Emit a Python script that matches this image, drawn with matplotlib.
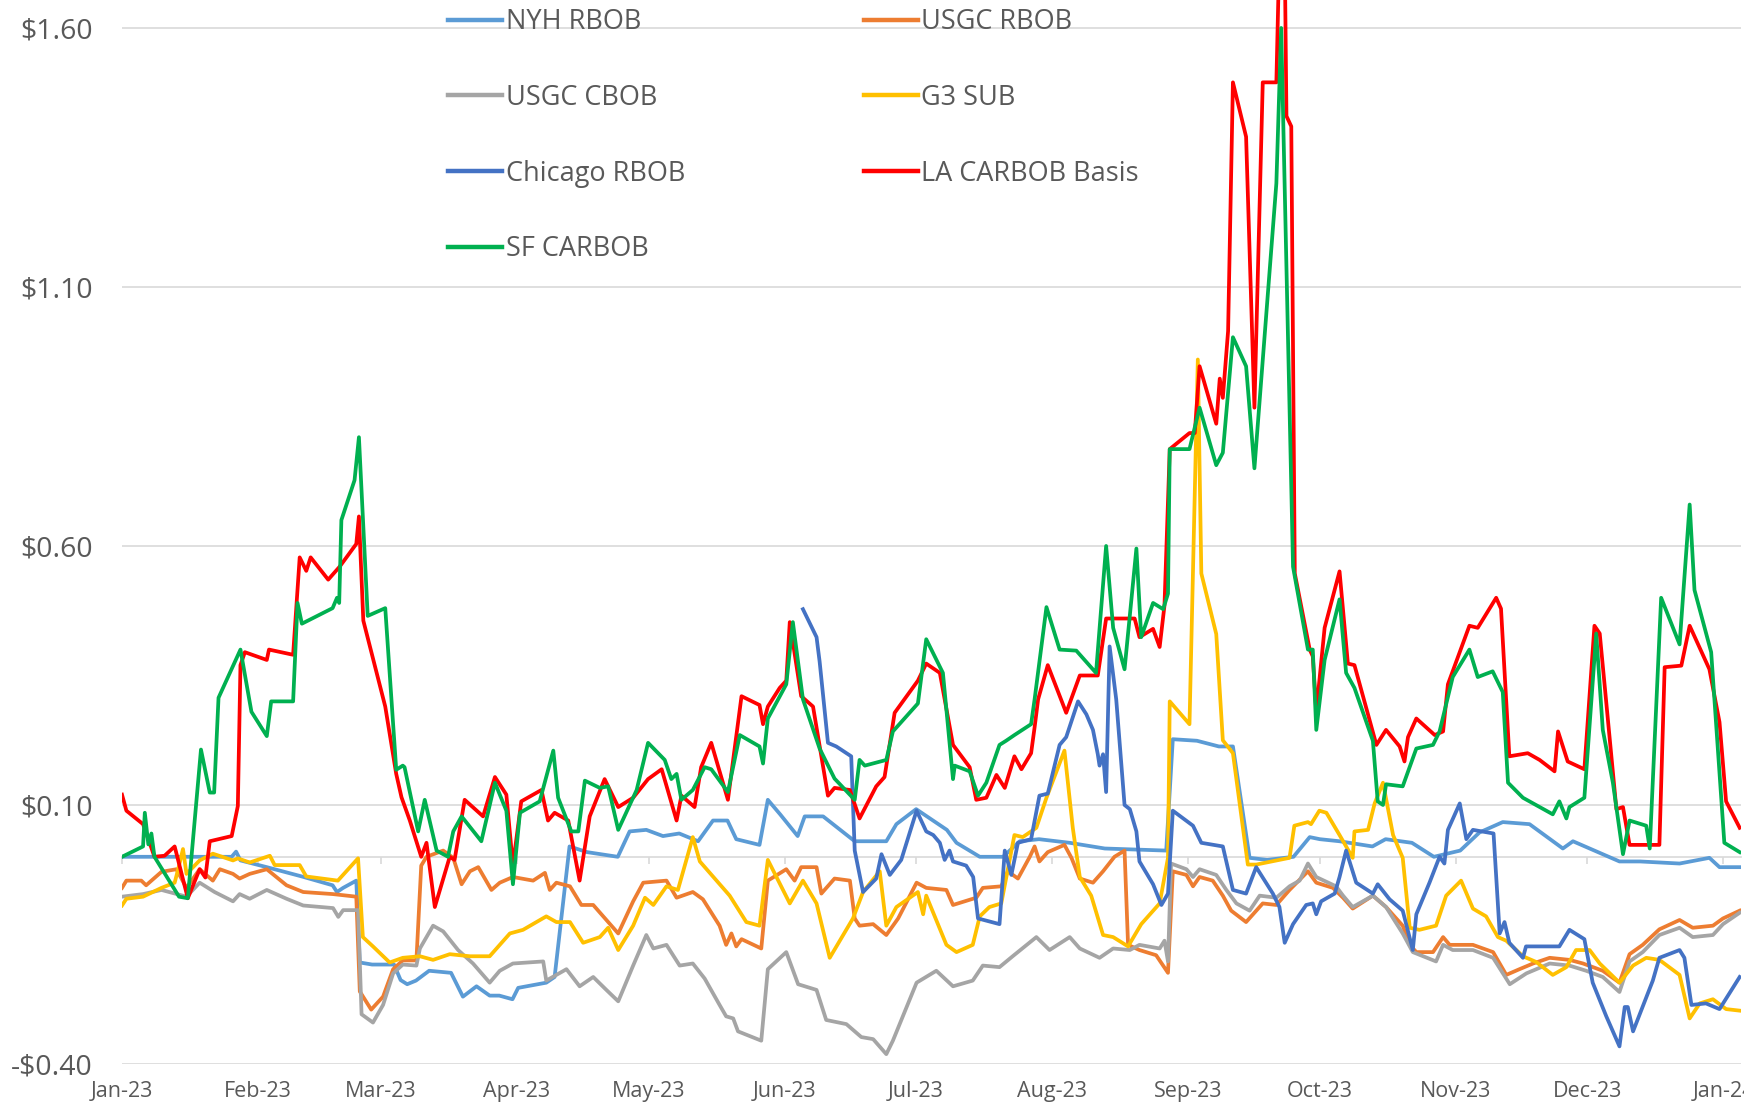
import matplotlib
matplotlib.use("Agg")
import matplotlib.pyplot as plt
import pandas as pd

START = pd.Timestamp("2023-01-01")

# (day offset from START, $/gal) knots
nyh_rbob = [
    (0, 0.0), (25, 0.0), (26, 0.01), (27, -0.007), (33, -0.02), (41, -0.038), (48, -0.055), (49, -0.068),
    (50.4, -0.06), (53.4, -0.046), (54.2, -0.204), (57, -0.208), (62, -0.208), (63.5, -0.238), (65, -0.246),
    (67, -0.239), (70, -0.22), (75, -0.224), (77.7, -0.27), (80.8, -0.25), (83.8, -0.268), (86, -0.268),
    (89, -0.275), (90.3, -0.253), (96.7, -0.243), (98.6, -0.232), (102, 0.02), (106, 0.009), (113, 0.0),
    (115.7, 0.049), (119.5, 0.052), (123.3, 0.04), (127, 0.045), (131.3, 0.03), (134.7, 0.07), (138, 0.07),
    (140, 0.034), (145.3, 0.023), (147.2, 0.11), (150, 0.082), (154, 0.04), (155.6, 0.078), (159.8, 0.078),
    (167, 0.03), (174.2, 0.03), (176.5, 0.063), (181, 0.092), (188, 0.052), (190.2, 0.027), (195.5, 0.0),
    (200.8, 0.0), (204.6, 0.03), (209, 0.034), (216, 0.027), (224, 0.016), (238, 0.012), (239.5, 0.227),
    (245, 0.224), (250, 0.213), (253.2, 0.213), (257, -0.002), (261, -0.006), (267, 0.0), (270.7, 0.038),
    (273, 0.034), (277.5, 0.03), (285, 0.02), (288, 0.034), (294, 0.027), (299, 0.0), (305, 0.012),
    (309.4, 0.047), (314.7, 0.067), (320.8, 0.063), (328.4, 0.016), (330.7, 0.03), (341.3, -0.009),
    (346, -0.009), (355, -0.013), (361.8, -0.002), (364.1, -0.02), (368.7, -0.02),
]

usgc_rbob = [
    (0, -0.06), (1, -0.046), (4.4, -0.046), (5.5, -0.055), (9, -0.029), (12.4, -0.024), (14.7, -0.06),
    (17.7, -0.024), (20.7, -0.046), (22.3, -0.024), (25.3, -0.033), (26.8, -0.042), (29.1, -0.033),
    (33, -0.024), (37.5, -0.055), (41.3, -0.068), (48.1, -0.072), (53.4, -0.077), (54.2, -0.26),
    (56.8, -0.295), (59.5, -0.27), (61.8, -0.217), (64, -0.2), (67.1, -0.2), (68.2, -0.017), (69.4, 0.0),
    (73.2, 0.012), (75.5, -0.002), (77.4, -0.053), (79.3, -0.028), (81.2, -0.02), (84.2, -0.064),
    (86.1, -0.05), (89.1, -0.039), (93.7, -0.046), (96.4, -0.031), (97.5, -0.064), (99, -0.05),
    (102.1, -0.057), (104.7, -0.093), (107.4, -0.093), (110.4, -0.122), (113.1, -0.148), (116.5, -0.086),
    (118.8, -0.05), (124.1, -0.046), (126.4, -0.079), (130.1, -0.068), (132.4, -0.082), (136.2, -0.133),
    (137.7, -0.17), (138.9, -0.148), (140, -0.173), (141.2, -0.159), (145.7, -0.177), (147.2, -0.046),
    (151.4, -0.024), (153.3, -0.046), (154.8, -0.02), (158.3, -0.02), (159.4, -0.071), (162.4, -0.042),
    (165.9, -0.046), (167, -0.119), (168.1, -0.133), (171.2, -0.13), (174.2, -0.151), (176.9, -0.119),
    (181.1, -0.05), (183.3, -0.06), (187.9, -0.064), (189.4, -0.093), (194.7, -0.079), (196.2, -0.06),
    (200.4, -0.057), (201.9, -0.028), (204.2, -0.042), (206.9, 0.0), (208, 0.02), (209.1, -0.009),
    (211, 0.009), (214.8, 0.023), (216.4, -0.002), (218.3, -0.042), (221.3, -0.05), (223.6, -0.028),
    (226.2, 0.0), (228.5, 0.012), (229.3, -0.17), (231.9, -0.18), (235.7, -0.19), (238.4, -0.224),
    (239.5, -0.028), (242.6, -0.035), (244.1, -0.057), (245.6, -0.039), (248.6, -0.046), (250.9, -0.075),
    (252.8, -0.104), (256.2, -0.126), (260, -0.09), (263.1, -0.093), (266.1, -0.064), (270.3, -0.028),
    (272.2, -0.05), (276, -0.06), (278.3, -0.079), (280.5, -0.1), (285.1, -0.075), (288.1, -0.097),
    (291.9, -0.133), (293.5, -0.17), (295, -0.184), (298.8, -0.184), (301.1, -0.155), (302.6, -0.17),
    (307.9, -0.17), (312.5, -0.184), (315.5, -0.228), (318.5, -0.217), (321.6, -0.206), (325.4, -0.195),
    (329.9, -0.199), (333, -0.206), (337.5, -0.22), (341.3, -0.243), (343.6, -0.188), (346.6, -0.17),
    (350.4, -0.14), (355, -0.122), (358, -0.137), (362.6, -0.133), (364.9, -0.119), (368.7, -0.104),
]

usgc_cbob = [
    (0, -0.077), (4.8, -0.072), (9, -0.064), (14.7, -0.077), (17.7, -0.05), (21.1, -0.068), (25.3, -0.086),
    (26.8, -0.072), (29.1, -0.081), (33, -0.064), (37.5, -0.081), (41.3, -0.094), (48.1, -0.099),
    (49.3, -0.116), (50.4, -0.103), (53.8, -0.103), (54.6, -0.304), (57.2, -0.32), (59.5, -0.286),
    (61.8, -0.225), (64, -0.208), (67.1, -0.21), (67.9, -0.177), (70.9, -0.133), (73.2, -0.144),
    (76.6, -0.18), (80, -0.206), (83.8, -0.243), (86.1, -0.22), (89.1, -0.206), (96, -0.202),
    (96.7, -0.239), (99, -0.228), (101.3, -0.217), (104.3, -0.25), (107.4, -0.232), (110.4, -0.257),
    (113.1, -0.279), (116.5, -0.21), (119.5, -0.151), (121.1, -0.177), (124.1, -0.17), (127.1, -0.21),
    (130.1, -0.206), (132.8, -0.235), (136.2, -0.286), (137.7, -0.308), (139.3, -0.312), (140.4, -0.337),
    (145.7, -0.355), (147.2, -0.217), (151.4, -0.184), (154.1, -0.246), (158.3, -0.257), (160.5, -0.315),
    (165.1, -0.323), (168.5, -0.348), (171.2, -0.352), (174.2, -0.381), (175.7, -0.355), (181.1, -0.243),
    (185.6, -0.22), (189.4, -0.25), (193.9, -0.239), (196.2, -0.21), (200, -0.213), (203, -0.192),
    (208.4, -0.155), (211.4, -0.18), (216, -0.155), (218.3, -0.177), (222.8, -0.195), (225.9, -0.177),
    (229.7, -0.18), (231.9, -0.17), (236.5, -0.177), (237.6, -0.162), (238.4, -0.202), (239.1, -0.013),
    (242.6, -0.024), (244.1, -0.039), (245.6, -0.024), (249.4, -0.035), (251.7, -0.064), (254, -0.09),
    (257, -0.104), (259.3, -0.075), (263.1, -0.079), (266.1, -0.057), (268.4, -0.046), (270.3, -0.013),
    (272.2, -0.039), (276.7, -0.057), (278.3, -0.075), (280.5, -0.097), (285.1, -0.075), (288.1, -0.097),
    (291.9, -0.148), (294.2, -0.184), (299.5, -0.202), (301.1, -0.17), (303.3, -0.18), (307.9, -0.18),
    (312.5, -0.195), (316.3, -0.246), (320.1, -0.225), (325.4, -0.206), (329.9, -0.21), (333.7, -0.22),
    (337.5, -0.232), (341.3, -0.261), (343.6, -0.202), (346.6, -0.184), (350.4, -0.151), (355, -0.137),
    (358, -0.155), (362.6, -0.151), (364.9, -0.13), (368.7, -0.108),
]

g3_sub = [
    (0, -0.094), (1, -0.081), (4.8, -0.077), (9, -0.06), (12, -0.05), (12.8, -0.024), (13.9, 0.015),
    (14.7, -0.033), (17.7, -0.007), (20.7, 0.006), (25.3, -0.007), (26.4, -0.003), (29.1, -0.011),
    (33.7, 0.002), (34.8, -0.016), (40.5, -0.016), (42, -0.038), (49.2, -0.046), (53.8, -0.003),
    (54.9, -0.155), (57.2, -0.173), (61, -0.204), (64, -0.195), (67.9, -0.192), (70.9, -0.199),
    (74.7, -0.188), (79.3, -0.192), (83.8, -0.192), (88.4, -0.148), (91.4, -0.141), (96.7, -0.115),
    (99, -0.126), (102.1, -0.126), (105.1, -0.166), (108.9, -0.155), (110.8, -0.137), (113.1, -0.18),
    (116.5, -0.133), (119.2, -0.079), (121.1, -0.093), (124.1, -0.057), (126.7, -0.064), (130.1, 0.038),
    (131.7, -0.009), (138.5, -0.075), (142.3, -0.126), (145.3, -0.133), (147.2, -0.006), (152.2, -0.09),
    (155.2, -0.046), (158.3, -0.09), (161.3, -0.195), (166.6, -0.119), (168.9, -0.068), (172.7, -0.028),
    (174.2, -0.133), (176.5, -0.097), (181.4, -0.068), (182.6, -0.111), (183.3, -0.075), (187.9, -0.17),
    (190.2, -0.184), (193.9, -0.17), (195.5, -0.115), (197.7, -0.097), (200.4, -0.09), (203.4, 0.042),
    (205.3, 0.038), (208.4, 0.056), (210.7, 0.114), (214.8, 0.205), (216.7, 0.056), (218.3, -0.039),
    (220.9, -0.075), (223.6, -0.151), (225.9, -0.155), (229.3, -0.173), (232.3, -0.13), (236.5, -0.09),
    (238.4, -0.002), (238.8, 0.30), (243.3, 0.256), (245.2, 0.96), (246, 0.547), (249.4, 0.43),
    (250.9, 0.225), (253.2, 0.2), (256.6, -0.015), (258.5, -0.015), (266.1, -0.002), (267.2, 0.06),
    (270.3, 0.067), (271, 0.063), (272.9, 0.089), (274.5, 0.085), (277.5, 0.042), (280.5, -0.002),
    (280.9, 0.049), (284, 0.052), (285.5, 0.103), (287.4, 0.143), (289.7, 0.042), (291.9, -0.002),
    (293.5, -0.137), (295.7, -0.141), (299.5, -0.133), (301.8, -0.075), (305.2, -0.046), (307.9, -0.1),
    (310.9, -0.115), (313.6, -0.155), (315.5, -0.162), (319.3, -0.192), (322.3, -0.203), (326.1, -0.228),
    (329.2, -0.213), (331.4, -0.18), (334.5, -0.18), (336.8, -0.206), (341.3, -0.243), (344.4, -0.21),
    (347.4, -0.195), (350.4, -0.199), (355, -0.228), (357.3, -0.312), (359.6, -0.283), (362.6, -0.275),
    (365.6, -0.294), (368.7, -0.297),
]

chicago_rbob = [
    (155.2, 0.478), (158.3, 0.424), (159, 0.377), (160.9, 0.22), (162.8, 0.213), (166.2, 0.194),
    (167, 0.012), (168.9, -0.068), (171.9, -0.042), (173.1, 0.005), (175, -0.035), (177.6, -0.006),
    (181.1, 0.089), (183.3, 0.049), (184.9, 0.042), (186.4, 0.027), (187.5, -0.006), (188.6, 0.012),
    (189.4, -0.009), (192.4, -0.017), (194, -0.039), (195.1, -0.119), (200, -0.13), (201.2, 0.012),
    (202.7, -0.035), (204.2, 0.027), (207.2, 0.034), (209.1, 0.118), (211, 0.122), (213.7, 0.216),
    (215.2, 0.231), (217.9, 0.30), (219.8, 0.275), (221.3, 0.245), (222.4, 0.198), (222.8, 0.176),
    (223.6, 0.198), (224.3, 0.125), (225.1, 0.406), (226.6, 0.304), (228.5, 0.10), (229.7, 0.092),
    (231.2, 0.049), (231.9, -0.009), (235, -0.053), (236.9, -0.093), (238.4, -0.071), (239.5, 0.089),
    (244.1, 0.06), (246, 0.027), (250.9, 0.02), (253.2, -0.064), (256.2, -0.071), (258.5, -0.02),
    (262.3, -0.071), (263.8, -0.097), (265, -0.166), (266.9, -0.13), (269.9, -0.093), (271.4, -0.09),
    (272.2, -0.111), (273.3, -0.086), (276.4, -0.071), (277.5, -0.039), (279, 0.012), (281.3, -0.05),
    (285.1, -0.071), (286.2, -0.053), (288.9, -0.082), (291.9, -0.104), (294.2, -0.18), (295, -0.111),
    (298, -0.05), (300.3, 0.0), (301.4, -0.013), (302.2, 0.052), (304.9, 0.103), (306.4, 0.034),
    (307.9, 0.052), (312.6, 0.045), (314, -0.148), (315.1, -0.126), (316.2, -0.166), (319.3, -0.195),
    (320, -0.173), (327.6, -0.173), (329.9, -0.141), (333.3, -0.159), (335.2, -0.243), (338.3, -0.308),
    (341.3, -0.366), (342.5, -0.29), (343.2, -0.29), (344.4, -0.337), (348.9, -0.239), (350.4, -0.195),
    (355, -0.18), (356.1, -0.195), (357.7, -0.286), (361, -0.283), (364.1, -0.294), (368.7, -0.232),
]

la_carbob = [
    (0, 0.12), (1, 0.089), (4.8, 0.063), (7.4, 0.0), (9.7, 0.002), (12, 0.02), (15, -0.08), (17.7, -0.024),
    (19, -0.04), (20, 0.03), (25, 0.04), (26.4, 0.098), (27, 0.37), (28, 0.395), (33, 0.38), (33.5, 0.40),
    (39, 0.39), (40.5, 0.578), (42, 0.552), (43, 0.578), (47, 0.535), (49.6, 0.56), (53.4, 0.604),
    (54, 0.657), (55, 0.456), (60, 0.29), (62.5, 0.16), (63.7, 0.115), (65.6, 0.07), (68.2, 0.0),
    (69.4, 0.027), (71.3, -0.097), (74.7, 0.0), (75.8, -0.006), (78.1, 0.11), (82.3, 0.078), (85, 0.154),
    (87.6, 0.12), (89.1, -0.017), (91, 0.107), (95.6, 0.129), (97.1, 0.07), (98.6, 0.085), (101.7, 0.07),
    (104.3, -0.046), (106.6, 0.078), (110, 0.15), (113.1, 0.096), (116.5, 0.114), (119.9, 0.15),
    (123, 0.169), (126.4, 0.07), (127.5, 0.118), (130.5, 0.096), (132, 0.173), (134.3, 0.22),
    (138.1, 0.11), (141.2, 0.31), (145.3, 0.293), (146.1, 0.256), (147.2, 0.29), (149.9, 0.326),
    (151.4, 0.34), (152.2, 0.453), (154.8, 0.31), (157.5, 0.29), (160.9, 0.118), (162.4, 0.133),
    (165.9, 0.129), (168.1, 0.074), (171.9, 0.136), (173.8, 0.154), (176.1, 0.278), (181.4, 0.34),
    (183.3, 0.373), (186.4, 0.355), (189.4, 0.216), (193.2, 0.173), (194.7, 0.11), (197, 0.114),
    (199.3, 0.158), (201.2, 0.133), (203.4, 0.194), (205, 0.169), (207.2, 0.2), (208, 0.25), (208.8, 0.304),
    (211, 0.37), (215.2, 0.278), (218.3, 0.35), (222.4, 0.35), (224.3, 0.46), (230.8, 0.46),
    (231.9, 0.424), (235, 0.44), (236.5, 0.405), (237.6, 0.485), (238.8, 0.787), (243.3, 0.818),
    (244.5, 0.818), (245.6, 0.947), (249.4, 0.836), (250.2, 0.923), (250.9, 0.886), (252.1, 1.015),
    (253.2, 1.495), (256.2, 1.39), (258.1, 0.867), (260, 1.495), (263.1, 1.495), (263.8, 1.75),
    (265, 1.75), (265.4, 1.43), (266.5, 1.41), (267.3, 0.547), (270.7, 0.40), (271.4, 0.387),
    (272.2, 0.28), (274.1, 0.442), (277.5, 0.551), (279.4, 0.373), (280.9, 0.37), (285.9, 0.216),
    (288.1, 0.245), (291.2, 0.213), (292.3, 0.184), (293.1, 0.231), (295, 0.267), (299.2, 0.235),
    (301.1, 0.242), (302.2, 0.333), (307.1, 0.446), (309, 0.442), (313.2, 0.50), (314.3, 0.479),
    (316.2, 0.194), (320.4, 0.20), (323.1, 0.187), (326.5, 0.165), (327.3, 0.242), (329.5, 0.184),
    (333.3, 0.169), (335.6, 0.446), (336.8, 0.431), (340.6, 0.092), (342.1, 0.096), (343.6, 0.023),
    (350.4, 0.023), (351.6, 0.366), (355.4, 0.369), (357.3, 0.446), (361.8, 0.362), (364.1, 0.26),
    (365.6, 0.107), (368.7, 0.056),
]

sf_carbob = [
    (0, 0.0), (4.8, 0.02), (5.2, 0.085), (6, 0.024), (6.7, 0.045), (7.4, 0.0), (13, -0.077), (15, -0.08),
    (18, 0.207), (20, 0.124), (21, 0.124), (22, 0.307), (27, 0.40), (29.5, 0.28), (33, 0.233), (34, 0.30),
    (39, 0.30), (40, 0.49), (41, 0.45), (48, 0.48), (49, 0.50), (49.5, 0.49), (50, 0.65), (53, 0.727),
    (54, 0.81), (56, 0.465), (60, 0.48), (62.5, 0.168), (64, 0.176), (64.4, 0.173), (67.5, 0.049),
    (69, 0.11), (71.7, 0.012), (74.3, 0.0), (75.5, 0.049), (77.4, 0.078), (81.9, 0.03), (85, 0.143),
    (87.6, 0.089), (89.1, -0.053), (90.7, 0.085), (95.2, 0.107), (98.3, 0.205), (99.4, 0.114),
    (102.4, 0.049), (104, 0.049), (105.5, 0.147), (108.9, 0.133), (110.8, 0.136), (113.1, 0.052),
    (117.3, 0.129), (119.9, 0.22), (123.7, 0.187), (125.2, 0.15), (126.4, 0.16), (127.5, 0.11),
    (130.1, 0.129), (132.8, 0.173), (134.3, 0.169), (138.1, 0.125), (140.8, 0.235), (145.3, 0.213),
    (146.1, 0.18), (147.2, 0.267), (151.4, 0.333), (152.9, 0.453), (155.2, 0.304), (159, 0.209),
    (162.4, 0.151), (167, 0.11), (168.1, 0.187), (169.3, 0.176), (174.2, 0.187), (175.7, 0.242),
    (181.4, 0.296), (183.3, 0.42), (187.1, 0.355), (189.4, 0.15), (189.8, 0.176), (193.2, 0.165),
    (195.1, 0.118), (197, 0.143), (200, 0.216), (201.5, 0.224), (203.4, 0.235), (206.1, 0.25),
    (207.2, 0.256), (208, 0.304), (210.7, 0.482), (213.7, 0.40), (217.5, 0.398), (222, 0.355),
    (224.3, 0.60), (225.9, 0.442), (228.5, 0.362), (231.2, 0.595), (232.3, 0.424), (235, 0.49),
    (237.3, 0.478), (238.4, 0.508), (238.8, 0.787), (243.3, 0.787), (245.6, 0.867), (249.4, 0.756),
    (250.9, 0.78), (253.2, 1.003), (256.2, 0.947), (258.1, 0.75), (263.1, 1.30), (264.2, 1.60),
    (266.9, 0.56), (270.3, 0.40), (271.4, 0.40), (272.2, 0.245), (274.1, 0.38), (277.5, 0.497),
    (279, 0.355), (280.9, 0.326), (285.1, 0.224), (286.2, 0.107), (287.4, 0.10), (288.1, 0.14),
    (291.9, 0.136), (295, 0.209), (298.8, 0.216), (300.3, 0.242), (303.3, 0.347), (307.1, 0.40),
    (309, 0.347), (312.4, 0.358), (314.7, 0.318), (315.9, 0.143), (319.3, 0.114), (326.1, 0.082),
    (327.6, 0.107), (329.2, 0.074), (329.9, 0.096), (333.3, 0.114), (336, 0.431), (337.5, 0.245),
    (339.8, 0.143), (342.1, 0.005), (343.6, 0.07), (347.4, 0.06), (348.2, 0.016), (350.8, 0.50),
    (355, 0.41), (357.3, 0.68), (358.4, 0.515), (362.2, 0.395), (365.2, 0.027), (368.7, 0.009),
]

SERIES = [nyh_rbob, usgc_rbob, usgc_cbob, g3_sub, chicago_rbob, la_carbob, sf_carbob]
NAMES = ["NYH RBOB", "USGC RBOB", "USGC CBOB", "G3 SUB", "Chicago RBOB", "LA CARBOB Basis", "SF CARBOB"]
COLORS = ["#5B9BD5", "#ED7D31", "#A5A5A5", "#FFC000", "#4472C4", "#FF0000", "#00B050"]

Y_TICKS = [-0.40, 0.10, 0.60, 1.10, 1.60]
Y_MIN, Y_MAX = -0.40, 1.654
X_DAYS = 369

TEXT = "#595959"
GRID = "#D9D9D9"


def to_xy(pairs):
    days = [p[0] for p in pairs]
    vals = [p[1] for p in pairs]
    return START + pd.to_timedelta(days, unit="D"), vals


def money(v):
    return f"-${abs(v):.2f}" if v < 0 else f"${v:.2f}"


plt.rcParams["font.family"] = ["Open Sans", "DejaVu Sans"]

fig = plt.figure(figsize=(17.44, 11.08), dpi=100)
ax = fig.add_axes([122 / 1744, 44 / 1108, (1741 - 122) / 1744, 1064 / 1108])

lines = {}
for pairs, name, color in zip(SERIES, NAMES, COLORS):
    x, y = to_xy(pairs)
    (ln,) = ax.plot(x, y, color=color, lw=2.7, label=name, solid_joinstyle="round")
    lines[name] = ln

ax.set_ylim(Y_MIN, Y_MAX)
ax.set_xlim(START, START + pd.Timedelta(days=X_DAYS))
ax.set_yticks(Y_TICKS)
ax.set_yticklabels([money(v) for v in Y_TICKS])
ax.grid(axis="y", color=GRID, lw=1.2)
ax.set_axisbelow(True)

months = pd.date_range("2023-01-01", "2024-01-01", freq="MS")
ax.set_xticks(months)
ax.set_xticklabels([m.strftime("%b-%y") for m in months])

for s in ax.spines.values():
    s.set_visible(False)
ax.tick_params(axis="y", length=0, pad=21, labelsize=20.5, labelcolor=TEXT)
ax.tick_params(axis="x", length=0, pad=12, labelsize=15.5, labelcolor=TEXT)

# zero line with month ticks (Excel-style category axis crossing at 0)
zero_pos = (0 - Y_MIN) / (Y_MAX - Y_MIN)
sec = ax.secondary_xaxis(zero_pos)
sec.set_alignment("bottom")
sec.set_xticks(months)
sec.tick_params(axis="x", length=5, width=1.2, color=GRID, labelbottom=False, labeltop=False)
sec.spines["bottom"].set_color(GRID)
sec.spines["bottom"].set_linewidth(1.2)

order = ["NYH RBOB", "USGC CBOB", "Chicago RBOB", "SF CARBOB", "USGC RBOB", "G3 SUB", "LA CARBOB Basis"]
leg = fig.legend([lines[n] for n in order], order, loc="upper left", bbox_to_anchor=(0.257, 0.9925),
                 ncol=2, frameon=False, fontsize=19.5, handlelength=2.0, handletextpad=0.12,
                 labelspacing=1.76, columnspacing=6.6, borderpad=0, borderaxespad=0)
for t in leg.get_texts():
    t.set_color(TEXT)
for h in leg.legend_handles:
    h.set_linewidth(3.2)

fig.savefig("out.png", dpi=100)
